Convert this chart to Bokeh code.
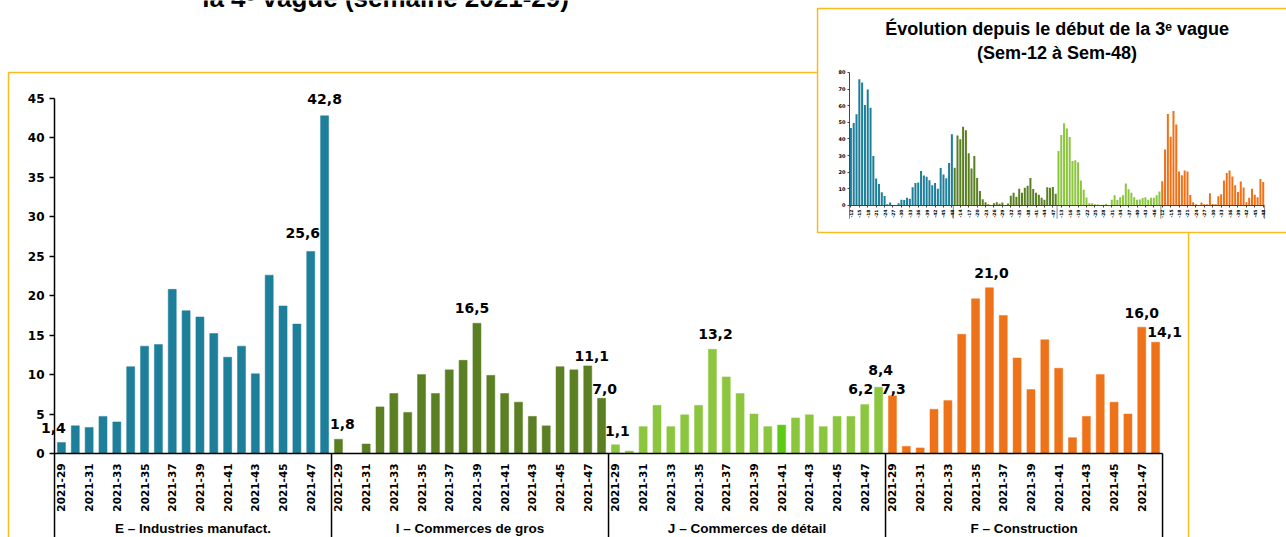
import math
from bokeh.plotting import figure
from bokeh.models import Range1d, LinearAxis, FixedTicker, ColumnDataSource
from bokeh.core.properties import value
from bokeh.embed import file_html
from bokeh.resources import INLINE

# ---------------- data ----------------
groups = ["E – Industries manufact.", "I – Commerces de gros",
          "J – Commerces de détail", "F – Construction"]
weeks_main = list(range(29, 49))          # 2021-29 .. 2021-48
weeks_inset = list(range(12, 49))         # Sem-12 .. Sem-48

e_vals = [1.4, 3.5, 3.3, 4.7, 4.0, 11.0, 13.6, 13.8, 20.8, 18.1,
          17.3, 15.2, 12.2, 13.6, 10.1, 22.6, 18.7, 16.4, 25.6, 42.8]
i_vals = [1.8, 0.0, 1.2, 5.9, 7.6, 5.2, 10.0, 7.6, 10.6, 11.8,
          16.5, 9.9, 7.6, 6.5, 4.7, 3.5, 11.0, 10.6, 11.1, 7.0]
j_vals = [1.1, 0.3, 3.4, 6.1, 3.4, 4.9, 6.1, 13.2, 9.7, 7.6,
          5.0, 3.4, 3.6, 4.5, 4.9, 3.4, 4.7, 4.7, 6.2, 8.4]
f_vals = [7.3, 0.9, 0.7, 5.6, 6.7, 15.1, 19.6, 21.0, 17.5, 12.1,
          8.1, 14.4, 10.8, 2.0, 4.7, 10.0, 6.5, 5.0, 16.0, 14.1]

# inset: weeks 12..28 (weeks 29..48 are the main values)
e_early = [46.6, 49.6, 54.9, 75.9, 74.0, 60.5, 69.7, 58.8, 29.7, 16.3,
           13.0, 7.9, 5.7, 0.7, 1.8, 0.3, 0.3]
i_early = [22.7, 42.1, 39.9, 47.4, 45.2, 31.4, 22.3, 29.7, 16.6, 8.7,
           3.7, 2.0, 0.8, 0.0, 1.4, 2.0, 1.0]
j_early = [32.8, 42.4, 49.4, 46.3, 41.2, 26.7, 27.2, 26.0, 15.1, 9.4,
           4.8, 1.3, 1.4, 0.7, 0.6, 0.5, 0.4]
f_early = [14.6, 33.7, 55.0, 41.3, 56.8, 48.7, 20.5, 18.2, 21.1, 20.5,
           6.3, 1.9, 0.8, 0.0, 1.8, 0.8, 0.7]

y_ticks = list(range(0, 46, 5))
inset_y_ticks = list(range(0, 81, 10))

# labelled bars: (group index, week)
label_keys = [(0, 29), (0, 47), (0, 48), (1, 29), (1, 39), (1, 47), (1, 48),
              (2, 29), (2, 36), (2, 47), (2, 48), (3, 29), (3, 36), (3, 47), (3, 48)]

# ---------------- style ----------------
colors = ["#1e7f9b", "#5b7f23", "#8cc63f", "#ee7219"]
highlight = {(2, 41): "#5ccb16"}
YELLOW = "#f5bd1f"
label_dx = [-8, -8, 0, 4, -5, 4, 3, 2, 3, -4, 2, 1, 2, 0, 9]
label_gap = [14, 18, 17, 15, 15, 10, 9, 14, 15, 16, 17, 7, 15, 14, 10]

main_series = [e_vals, i_vals, j_vals, f_vals]
early_series = [e_early, i_early, j_early, f_early]
NG = len(weeks_main)
NI = len(weeks_inset)

p = figure(width=1286, height=537, output_backend="svg", toolbar_location=None,
           x_range=Range1d(-4.40, 88.45), y_range=Range1d(-10.65, 57.41),
           x_axis_location=None, y_axis_location=None, min_border=0,
           outline_line_color=None, background_fill_color="white",
           border_fill_color="white",
           styles={"position": "absolute", "left": "0px", "top": "0px"})
p.grid.visible = False
p.extra_x_ranges = {"ix": Range1d(-303.2, 155.3)}
p.extra_y_ranges = {"iy": Range1d(-199.7, 123.3)}

# main yellow frame
p.line(x=[-3.82, -3.82, 81.38, 81.38], y=[-12, 48.3, 48.3, -12],
       line_color=YELLOW, line_width=1.5)

# main bars
xs, tops, cols = [], [], []
for g, vals in enumerate(main_series):
    for k, v in enumerate(vals):
        xs.append(g * NG + k)
        tops.append(v)
        cols.append(highlight.get((g, weeks_main[k]), colors[g]))
p.vbar(x=xs, top=tops, width=0.58, fill_color=cols, line_color=cols, line_width=0.5)

# group separators below axis
seps = [g * NG - 0.5 for g in range(len(groups) + 1)]
p.segment(x0=seps, y0=[0] * len(seps), x1=seps, y1=[-12] * len(seps),
          line_color="black", line_width=1.5)

# group labels
p.text(x=[g * NG + (NG - 1) / 2 for g in range(len(groups))], y=[-9.5] * len(groups),
       text=groups, text_align="center", text_baseline="alphabetic",
       text_font=value("Liberation Sans"), text_font_style="bold",
       text_font_size="13.5px", text_color="black")

# data labels
lx, ly, lt = [], [], []
for (g, w) in label_keys:
    v = main_series[g][weeks_main.index(w)]
    lx.append(g * NG + weeks_main.index(w))
    ly.append(v)
    lt.append(f"{v:.1f}".replace(".", ","))
lsrc = ColumnDataSource(dict(x=lx, y=ly, t=lt, dx=label_dx, dy=[-d for d in label_gap]))
p.text(x="x", y="y", text="t", x_offset="dx", y_offset="dy", source=lsrc,
       text_align="center", text_baseline="alphabetic",
       text_font=value("DejaVu Sans"), text_font_style="bold",
       text_font_size="14px", text_color="black")

# main title (clipped at top)
p.text(x=[23.4], y=[56.66], text=["la 4ᵉ vague (semaine 2021-29)"], y_offset=-8,
       text_align="center", text_baseline="alphabetic",
       text_font=value("Liberation Sans"), text_font_style="bold",
       text_font_size="26px", text_color="black")

# axes
yax = LinearAxis(fixed_location=-0.5, bounds=(0, 45), ticker=FixedTicker(ticks=y_ticks),
                 major_tick_out=5, major_tick_in=0, minor_tick_out=0, minor_tick_in=0,
                 axis_line_color="black", axis_line_width=1.5,
                 major_tick_line_color="black", major_tick_line_width=1.5,
                 major_label_text_font="DejaVu Sans", major_label_text_font_style="bold",
                 major_label_text_font_size="12px", major_label_text_color="black",
                 major_label_standoff=5)
p.add_layout(yax, "left")

xt = [g * NG + k for g in range(len(groups)) for k in range(0, NG, 2)]
xover = {}
for t in xt:
    lab = f"2021-{weeks_main[t % NG]}"
    xover[t] = lab
    xover[str(t)] = lab
xax = LinearAxis(fixed_location=0, bounds=(-0.5, len(groups) * NG - 0.5),
                 ticker=FixedTicker(ticks=xt), major_label_overrides=xover,
                 major_label_orientation=math.pi / 2,
                 major_tick_out=0, major_tick_in=0, minor_tick_out=0, minor_tick_in=0,
                 axis_line_color="black", axis_line_width=1.5,
                 major_label_text_font="DejaVu Sans", major_label_text_font_style="bold",
                 major_label_text_font_size="10.5px", major_label_text_color="black",
                 major_label_standoff=10)
p.add_layout(xax, "below")

# ---------------- inset ----------------
p.quad(left=[-11.9], right=[170], top=[118.5], bottom=[-16.2],
       fill_color="white", line_color=YELLOW, line_width=1.5,
       x_range_name="ix", y_range_name="iy")

ix, itop, icol = [], [], []
for g in range(len(groups)):
    vals = early_series[g] + main_series[g]
    for k, v in enumerate(vals):
        ix.append(g * NI + k)
        itop.append(v)
        icol.append(colors[g])
p.vbar(x=ix, top=itop, width=0.72, fill_color=icol, line_color=None,
       x_range_name="ix", y_range_name="iy")

iseps = [g * NI - 0.5 for g in range(len(groups) + 1)]
p.segment(x0=iseps, y0=[0] * len(iseps), x1=iseps, y1=[-8] * len(iseps),
          line_color="#888888", line_width=1, x_range_name="ix", y_range_name="iy")

p.text(x=[(len(groups) * NI - 1) / 2] * 2, y=[101.9, 87.8],
       text=["Évolution depuis le début de la 3ᵉ vague", "(Sem-12 à Sem-48)"],
       y_offset=-7, text_align="center", text_baseline="alphabetic",
       text_font=value("Liberation Sans"), text_font_style="bold",
       text_font_size="18px", text_color="black",
       x_range_name="ix", y_range_name="iy")

iyax = LinearAxis(x_range_name="ix", y_range_name="iy", fixed_location=-0.5,
                  bounds=(0, 80), ticker=FixedTicker(ticks=inset_y_ticks),
                  major_tick_out=2, major_tick_in=0, minor_tick_out=0, minor_tick_in=0,
                  axis_line_color="#444444", axis_line_width=1,
                  major_tick_line_color="#444444",
                  major_label_text_font="DejaVu Sans", major_label_text_font_style="bold",
                  major_label_text_font_size="5px", major_label_text_color="black",
                  major_label_standoff=2)
p.add_layout(iyax, "left")

ixt = list(range(0, len(groups) * NI, 3))
ixover = {}
for t in ixt:
    lab = f"-{weeks_inset[t % NI]}"
    ixover[t] = lab
    ixover[str(t)] = lab
ixax = LinearAxis(x_range_name="ix", y_range_name="iy", fixed_location=0,
                  bounds=(-0.5, len(groups) * NI - 0.5), ticker=FixedTicker(ticks=ixt),
                  major_label_overrides=ixover, major_label_orientation=math.pi / 2,
                  major_tick_out=2, major_tick_in=0, minor_tick_out=0, minor_tick_in=0,
                  axis_line_color="#444444", axis_line_width=1,
                  major_tick_line_color="#444444",
                  major_label_text_font="DejaVu Sans", major_label_text_font_style="bold",
                  major_label_text_font_size="4.5px", major_label_text_color="black",
                  major_label_standoff=2)
p.add_layout(ixax, "below")

open("out.html", "w").write(file_html(p, INLINE))
